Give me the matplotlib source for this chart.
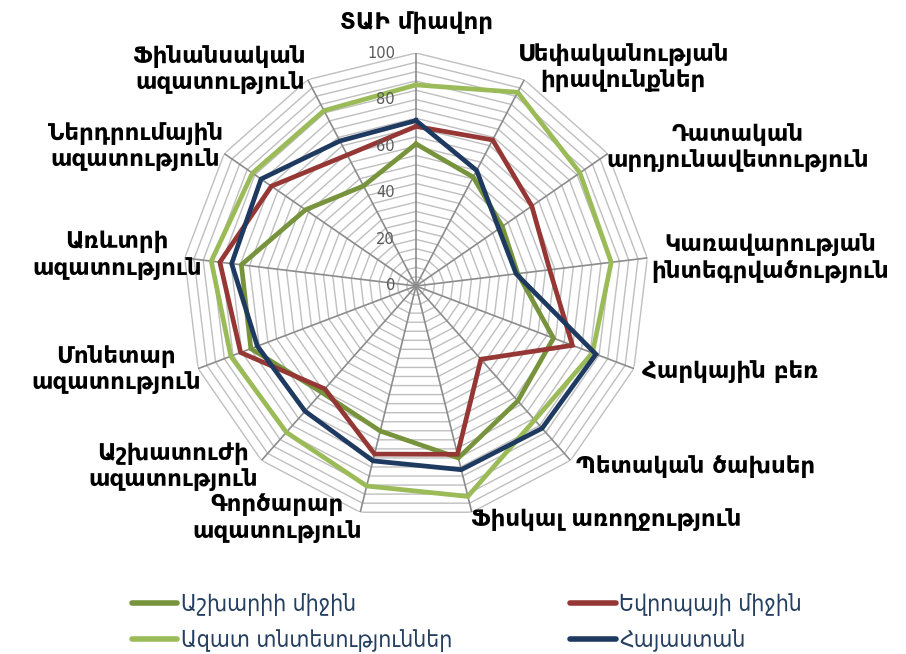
import numpy as np
import matplotlib
matplotlib.use("Agg")
import matplotlib.pyplot as plt
from matplotlib.lines import Line2D

categories = [
    "ՏԱԻ միավոր",
    "Սեփականության\nիրավունքներ",
    "Դատական\nարդյունավետություն",
    "Կառավարության\nինտեգրվածություն",
    "Հարկային բեռ",
    "Պետական ծախսեր",
    "Ֆիսկալ առողջություն",
    "Գործարար\nազատություն",
    "Աշխատուժի\nազատություն",
    "Մոնետար\nազատություն",
    "Առևտրի\nազատություն",
    "Ներդրումային\nազատություն",
    "Ֆինանսական\nազատություն",
]
world = [61.0, 52.8, 45.0, 44.0, 63.1, 65.9, 76.0, 64.1, 61.0, 75.8, 75.5, 57.6, 48.5]
europe = [68.5, 70.8, 60.4, 57.8, 71.8, 42.0, 74.4, 74.3, 59.0, 80.5, 84.8, 75.4, 63.5]
free = [86.3, 93.9, 85.5, 84.4, 81.0, 76.8, 93.0, 88.4, 83.9, 85.0, 88.5, 85.3, 85.0]
armenia = [71.0, 56.0, 43.2, 43.3, 82.6, 81.6, 81.2, 77.3, 71.8, 72.8, 79.7, 80.8, 70.3]
series_names = ["Աշխարիի միջին", "Եվրոպայի միջին", "Ազատ տնտեսություններ", "Հայաստան"]
tick_values = [0, 20, 40, 60, 80, 100]

colors = ["#77933C", "#953735", "#9BBB59", "#1F3A60"]

# label offsets (pixels) from axis ends
label_offsets = [(0, -31), (99, -12), (130, -6), (123, 0), (96, 3), (125, 6), (134, 7),
                 (-83, 6), (-88, 6), (-82, 1), (-68, -3), (-89, -7), (-88, -10)]

W, H = 906, 654
fig = plt.figure(figsize=(W / 100, H / 100), dpi=100)
cx, cy, R = 416, 286, 233
ax = fig.add_axes([(cx - R) / W, (H - cy - R) / H, 2 * R / W, 2 * R / H], projection="polar")
ax.set_theta_zero_location("N")
ax.set_theta_direction(-1)
ax.set_ylim(0, 100)
ax.axis("off")

n = len(categories)
theta = np.arange(n) * 2 * np.pi / n
theta_c = np.append(theta, theta[0])

# rings
for r in range(4, 101, 4):
    ax.plot(theta_c, [r] * (n + 1), color="#BFBFBF", lw=1.0, zorder=1)
# spokes
for t in theta:
    ax.plot([t, t], [0, 100], color="#8C8C8C", lw=1.2, zorder=1.5)

handles = []
for vals, col, name in zip([world, europe, free, armenia], colors, series_names):
    v = np.append(vals, vals[0])
    ax.plot(theta_c, v, color=col, lw=3.4, zorder=3, solid_joinstyle="miter")
    handles.append(Line2D([0], [0], color=col, lw=4, solid_capstyle="round", label=name))

# radial tick labels
for tv in tick_values:
    ax.annotate(str(tv), xy=(0, tv), xytext=(-21 * 0.72, 0), textcoords="offset points",
                ha="right", va="center", fontsize=10.5, color="#595959", zorder=4)

# category labels
for t, lab, (ox, oy) in zip(theta, categories, label_offsets):
    ax.annotate(lab, xy=(t, 100), xytext=(ox * 0.72, -oy * 0.72), textcoords="offset points",
                ha="center", va="center", multialignment="center", fontsize=16.5,
                fontweight="bold", color="#000000", linespacing=1.2, annotation_clip=False)

order = [0, 2, 1, 3]
leg = fig.legend([handles[i] for i in order], [series_names[i] for i in order],
                 ncol=2, loc="upper left", bbox_to_anchor=(111 / W, 1 - 572 / H),
                 frameon=False, handlelength=2.0, handletextpad=0.15, columnspacing=5.15,
                 labelspacing=0.58, prop={"size": 16.5, "stretch": "condensed"})
for txt in leg.get_texts():
    txt.set_color("#243F60")

fig.savefig("out.png", dpi=100)
